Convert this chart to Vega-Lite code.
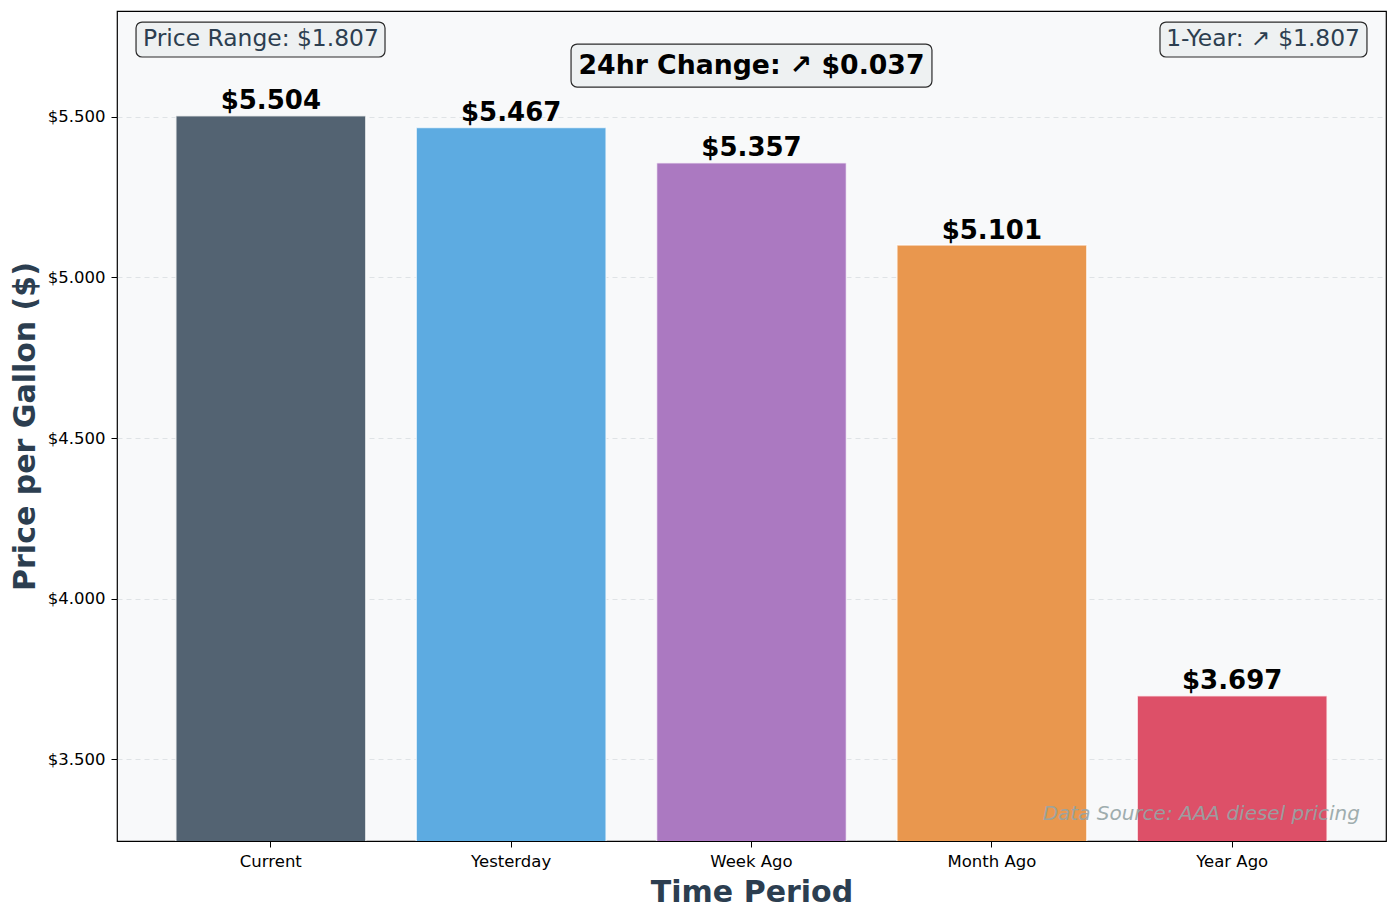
{
  "$schema": "https://vega.github.io/schema/vega-lite/v6.json",
  "description": "Diesel price per gallon by time period, with summary annotations.",
  "width": 1269,
  "height": 830,
  "autosize": {"type": "none"},
  "padding": {"left": 117, "top": 11, "right": 11, "bottom": 77},
  "background": "#ffffff",
  "config": {
    "font": "DejaVu Sans",
    "view": {"fill": "#f8f9fa", "stroke": "#000000", "strokeWidth": 1.2},
    "axis": {
      "domain": false,
      "tickColor": "#000000",
      "tickSize": 6,
      "labelFontSize": 16.5,
      "labelColor": "#000000",
      "titleFontSize": 30,
      "titleFontWeight": "bold",
      "titleColor": "#2c3e50"
    }
  },
  "layer": [
    {
      "data": {
        "values": [
          {"period": "Current", "price": 5.504},
          {"period": "Yesterday", "price": 5.467},
          {"period": "Week Ago", "price": 5.357},
          {"period": "Month Ago", "price": 5.101},
          {"period": "Year Ago", "price": 3.697}
        ]
      },
      "encoding": {
        "x": {
          "field": "period",
          "type": "nominal",
          "sort": null,
          "title": "Time Period",
          "scale": {"paddingInner": 0.21, "paddingOuter": 0.245},
          "axis": {"labelAngle": 0, "labelPadding": 6, "titlePadding": 8, "grid": false}
        },
        "y": {
          "field": "price",
          "type": "quantitative",
          "title": "Price per Gallon ($)",
          "scale": {"domain": [3.245, 5.83], "nice": false, "zero": false},
          "axis": {
            "values": [3.5, 4.0, 4.5, 5.0, 5.5],
            "format": "$,.3f",
            "labelPadding": 6,
            "titlePadding": 7,
            "grid": true,
            "gridColor": "#cfd4d8",
            "gridOpacity": 0.6,
            "gridDash": [5, 4]
          }
        }
      },
      "layer": [
        {
          "mark": {"type": "bar", "clip": true, "stroke": "#ffffff", "strokeWidth": 1.5, "strokeOpacity": 0.7},
          "encoding": {
            "color": {
              "field": "period",
              "type": "nominal",
              "legend": null,
              "scale": {
                "domain": ["Current", "Yesterday", "Week Ago", "Month Ago", "Year Ago"],
                "range": ["#536372", "#5dabe1", "#ab79c1", "#e9974e", "#dd5068"]
              }
            }
          }
        },
        {
          "mark": {"type": "text", "baseline": "bottom", "dy": -1.5, "fontSize": 26, "fontWeight": "bold", "color": "#000000"},
          "encoding": {"text": {"field": "price", "type": "quantitative", "format": "$.3f"}}
        }
      ]
    },
    {
      "layer": [
        {
          "data": {"values": [{"label": "Price Range: $1.807"}]},
          "layer": [
            {
              "mark": {"type": "rect", "fill": "#eef1f2", "stroke": "#2b2b2b", "strokeWidth": 1.2, "cornerRadius": 6},
              "encoding": {
                "x": {"datum": 0.015, "type": "quantitative", "scale": {"domain": [0, 1], "nice": false, "zero": false}, "axis": null},
                "x2": {"datum": 0.2112},
                "y": {"datum": 0.9867, "type": "quantitative", "scale": {"domain": [0, 1], "nice": false, "zero": false}, "axis": null},
                "y2": {"datum": 0.9446}
              }
            },
            {
              "mark": {"type": "text", "align": "left", "baseline": "middle", "fontSize": 23.4, "color": "#2c3e50"},
              "encoding": {
                "x": {"datum": 0.0205, "type": "quantitative"},
                "y": {"datum": 0.9657, "type": "quantitative"},
                "text": {"field": "label"}
              }
            }
          ]
        },
        {
          "data": {"values": [{"label": "1-Year: ↗ $1.807"}]},
          "layer": [
            {
              "mark": {"type": "rect", "fill": "#eef1f2", "stroke": "#2b2b2b", "strokeWidth": 1.2, "cornerRadius": 6},
              "encoding": {
                "x": {"datum": 0.8219, "type": "quantitative"},
                "x2": {"datum": 0.985},
                "y": {"datum": 0.9867, "type": "quantitative"},
                "y2": {"datum": 0.9446}
              }
            },
            {
              "mark": {"type": "text", "align": "right", "baseline": "middle", "fontSize": 23.4, "color": "#2c3e50"},
              "encoding": {
                "x": {"datum": 0.9795, "type": "quantitative"},
                "y": {"datum": 0.9657, "type": "quantitative"},
                "text": {"field": "label"}
              }
            }
          ]
        },
        {
          "data": {"values": [{"label": "24hr Change: ↗ $0.037"}]},
          "layer": [
            {
              "mark": {"type": "rect", "fill": "#eef1f2", "stroke": "#2b2b2b", "strokeWidth": 1.2, "cornerRadius": 6},
              "encoding": {
                "x": {"datum": 0.3578, "type": "quantitative"},
                "x2": {"datum": 0.6422},
                "y": {"datum": 0.9602, "type": "quantitative"},
                "y2": {"datum": 0.9084}
              }
            },
            {
              "mark": {"type": "text", "align": "center", "baseline": "middle", "fontSize": 26.7, "fontWeight": "bold", "color": "#000000"},
              "encoding": {
                "x": {"datum": 0.5, "type": "quantitative"},
                "y": {"datum": 0.9343, "type": "quantitative"},
                "text": {"field": "label"}
              }
            }
          ]
        },
        {
          "data": {"values": [{"label": "Data Source: AAA diesel pricing"}]},
          "mark": {"type": "text", "align": "right", "baseline": "middle", "fontSize": 20, "fontStyle": "italic", "color": "#95a5a6", "opacity": 0.9},
          "encoding": {
            "x": {"datum": 0.9795, "type": "quantitative"},
            "y": {"datum": 0.0325, "type": "quantitative"},
            "text": {"field": "label"}
          }
        }
      ]
    }
  ],
  "resolve": {"scale": {"x": "independent", "y": "independent"}}
}
